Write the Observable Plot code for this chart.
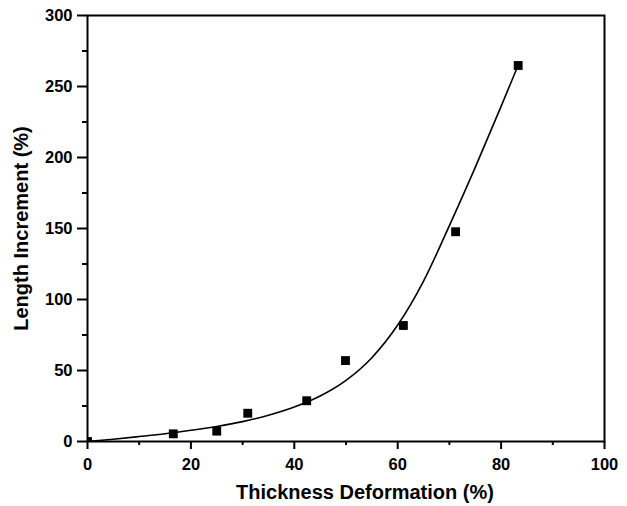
<!DOCTYPE html>
<html>
<head>
<meta charset="utf-8">
<script src="https://cdn.jsdelivr.net/npm/d3@7"></script>
<script src="https://cdn.jsdelivr.net/npm/@observablehq/plot@0.6"></script>
<style>
  html, body { margin: 0; padding: 0; background: #fff; }
</style>
</head>
<body>
<div id="chart"></div>
<script>
// Measured data points
const pointX = [0, 16.6, 25, 31, 42.4, 49.9, 61.1, 71.2, 83.3];
const pointY = [0, 5.4, 7.3, 19.9, 28.7, 57, 81.7, 147.7, 264.8];

// Fitted curve
const curveX = [0, 5, 10, 15, 20, 25, 30, 35, 40, 45, 50, 55, 60, 65, 70, 75, 80, 83.3];
const curveY = [0, 1.6, 3.5, 5.5, 7.9, 10.6, 14.0, 18.5, 24.3, 32, 43, 59, 82, 113, 152, 193, 236, 265];

// Axis ticks
const xMajorTicks = [0, 20, 40, 60, 80, 100];
const xMinorTicks = [10, 30, 50, 70, 90];
const yMajorTicks = [0, 50, 100, 150, 200, 250, 300];
const yMinorTicks = [25, 75, 125, 175, 225, 275];

const xLabel = "Thickness Deformation (%)";
const yLabel = "Length Increment (%)";

const points = pointX.map((x, i) => ({x, y: pointY[i]}));
const curve = curveX.map((x, i) => ({x, y: curveY[i]}));

const chart = Plot.plot({
  width: 627,
  height: 506,
  marginLeft: 87,
  marginRight: 23,
  marginTop: 15,
  marginBottom: 65,
  style: {fontFamily: "'Liberation Sans', Arial, sans-serif", fontWeight: "bold", fontSize: "16px", color: "black", background: "white"},
  x: {domain: [0, 100], label: null},
  y: {domain: [0, 300], label: null},
  marks: [
    Plot.line(curve, {x: "x", y: "y", stroke: "black", strokeWidth: 1.6, curve: "monotone-x"}),
    Plot.dot(points, {x: "x", y: "y", symbol: "square", r: 5, fill: "black", stroke: null, clip: true}),
    Plot.axisX({ticks: xMajorTicks, tickSize: 8, tickPadding: 9, strokeWidth: 2, fontSize: 16.5, fontWeight: "bold", label: null, tickFormat: d => String(d)}),
    Plot.axisX({ticks: xMinorTicks, tickSize: 4, strokeWidth: 2, text: null, label: null}),
    Plot.axisY({ticks: yMajorTicks, tickSize: 10, tickPadding: 5, strokeWidth: 2, fontSize: 16.5, fontWeight: "bold", label: null, tickFormat: d => String(d)}),
    Plot.axisY({ticks: yMinorTicks, tickSize: 5, strokeWidth: 2, text: null, label: null}),
    Plot.frame({stroke: "black", strokeWidth: 2}),
    Plot.text([xLabel], {text: d => d, frameAnchor: "bottom", textAnchor: "middle", lineAnchor: "bottom", dy: 57, dx: 19, fontSize: 20, fontWeight: "bold", fill: "black"}),
    Plot.text([yLabel], {text: d => d, frameAnchor: "left", textAnchor: "middle", lineAnchor: "bottom", rotate: -90, dx: -60, fontSize: 20, fontWeight: "bold", fill: "black"})
  ]
});
document.getElementById("chart").appendChild(chart);
</script>
</body>
</html>
